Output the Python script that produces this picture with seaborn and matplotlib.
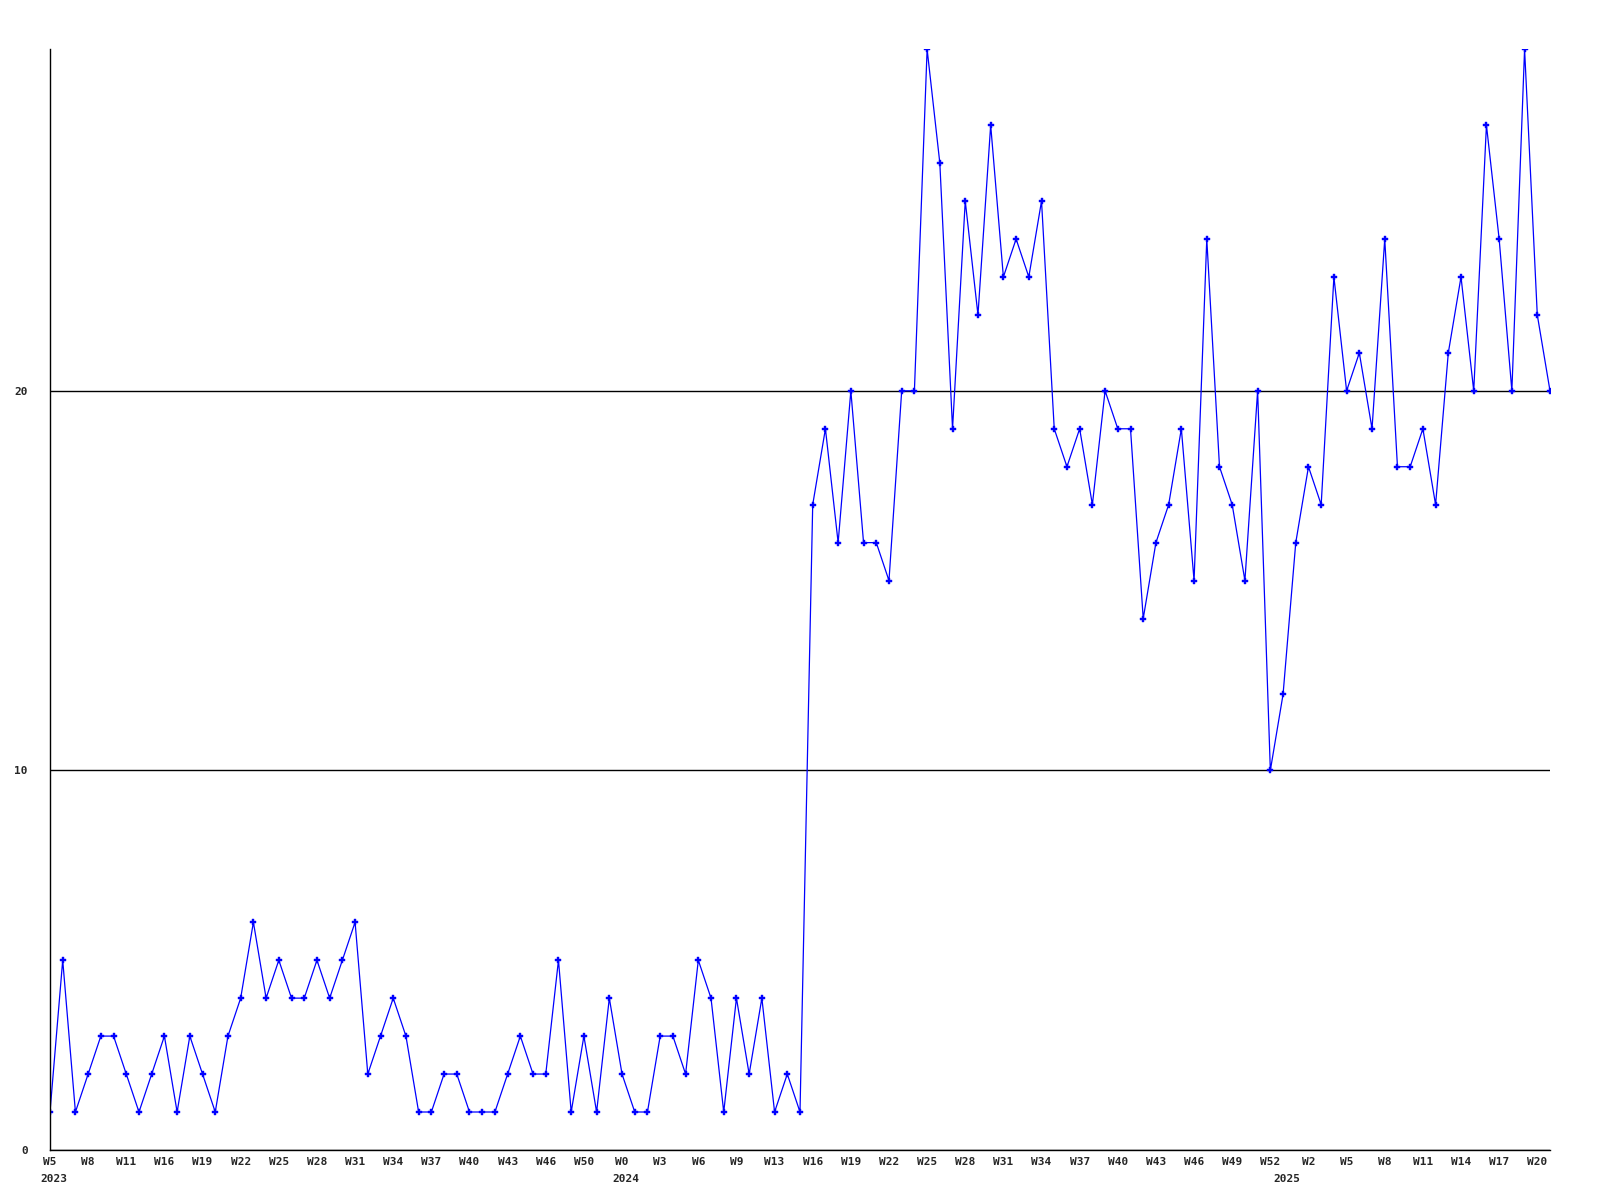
import matplotlib
matplotlib.use('Agg')
import matplotlib.pyplot as plt
import seaborn as sns
import pandas as pd

# weekly counts, 2023 W5 .. 2025 W21
counts = [
    1, 5, 1, 2, 3, 3, 2, 1, 2, 3, 1, 3, 2, 1, 3, 4, 6, 4, 5, 4,
    4, 5, 4, 5, 6, 2, 3, 4, 3, 1, 1, 2, 2, 1, 1, 1, 2, 3, 2, 2,
    5, 1, 3, 1, 4, 2, 1, 1, 3, 3, 2, 5, 4, 1, 4, 2, 4, 1, 2, 1,
    17, 19, 16, 20, 16, 16, 15, 20, 20, 29, 26, 19, 25, 22, 27, 23, 24, 23, 25, 19,
    18, 19, 17, 20, 19, 19, 14, 16, 17, 19, 15, 24, 18, 17, 15, 20, 10, 12, 16, 18,
    17, 23, 20, 21, 19, 24, 18, 18, 19, 17, 21, 23, 20, 27, 24, 20, 29, 22, 20,
]

week_labels = [
    'W5', 'W8', 'W11', 'W16', 'W19', 'W22', 'W25', 'W28', 'W31', 'W34',
    'W37', 'W40', 'W43', 'W46', 'W50',
    'W0', 'W3', 'W6', 'W9', 'W13', 'W16', 'W19', 'W22', 'W25', 'W28',
    'W31', 'W34', 'W37', 'W40', 'W43', 'W46', 'W49', 'W52',
    'W2', 'W5', 'W8', 'W11', 'W14', 'W17', 'W20',
]

years = ['2023', '2024', '2025']
year_start = [0, 45, 97]


def main():
    df = pd.DataFrame({'week': range(len(counts)), 'count': counts})

    sns.set_style('white')
    plt.rcParams['font.family'] = ['DejaVu Sans Mono']

    fig = plt.figure(figsize=(16, 12), dpi=100)
    ax = fig.add_axes([0.03125, 0.0417, 0.9375, 0.9173])

    sns.lineplot(data=df, x='week', y='count', ax=ax, color='#0000ff',
                 linewidth=0.9, marker='P', markersize=4,
                 markeredgecolor='#0000ff', markeredgewidth=0.3)

    ax.set_xlim(0, len(counts) - 1)
    ax.set_ylim(0, 29)

    ax.set_yticks([0, 10, 20])
    ax.set_yticklabels(['0', '10', '20'], fontsize=8, fontweight='bold')
    ax.yaxis.grid(True, color='black', linewidth=1.0)
    ax.xaxis.grid(False)

    ax.set_xticks(range(0, 3 * len(week_labels), 3))
    ax.set_xticklabels(week_labels, fontsize=8, fontweight='bold')
    ax.set_xticks([i + 0.3 for i in year_start], minor=True)
    ax.set_xticklabels(years, minor=True, fontsize=8, fontweight='bold')

    ax.tick_params(axis='x', which='major', length=0, pad=5)
    ax.tick_params(axis='x', which='minor', length=0, pad=17)
    ax.tick_params(axis='y', length=0, pad=16)

    ax.set_xlabel('')
    ax.set_ylabel('')
    sns.despine(ax=ax, top=True, right=True)
    for side in ['left', 'bottom']:
        ax.spines[side].set_color('black')
        ax.spines[side].set_linewidth(1.0)

    fig.savefig('out.png', dpi=100)


if __name__ == '__main__':
    main()
